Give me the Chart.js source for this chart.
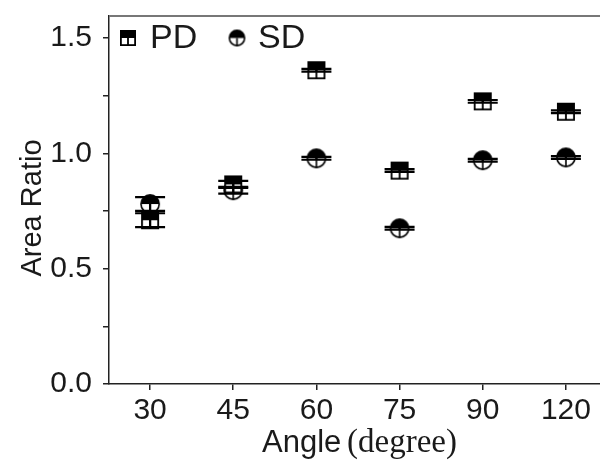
<!DOCTYPE html>
<html>
<head>
<meta charset="utf-8">
<script src="https://cdn.jsdelivr.net/npm/chart.js@4.4.1/dist/chart.umd.min.js"></script>
<style>
  html, body { margin: 0; padding: 0; background: #fff; overflow: hidden; }
  #wrap { width: 600px; height: 461px; overflow: hidden; }
  #c { display: block; }
</style>
</head>
<body>
<div id="wrap"><canvas id="c" width="611" height="461"></canvas></div>
<script>
// ---- data ----
const angleLabels = ['30', '45', '60', '75', '90', '120'];
const pdValues = [0.71, 0.865, 1.36, 0.925, 1.225, 1.18];
const pdErrors = [0.03, 0.015, 0.006, 0.006, 0.006, 0.006];
const sdValues = [0.78, 0.84, 0.978, 0.675, 0.97, 0.982];
const sdErrors = [0.03, 0.015, 0.006, 0.006, 0.006, 0.006];
const yTicks = [0, 0.25, 0.5, 0.75, 1.0, 1.25, 1.5];
const seriesNames = ['PD', 'SD'];

// ---- marker images ----
function makeSquare(w, h) {
  const c = document.createElement('canvas');
  c.width = w + 2; c.height = h + 2;
  const g = c.getContext('2d');
  const o = 1;
  g.fillStyle = '#fff'; g.fillRect(o, o, w, h);
  g.fillStyle = '#000'; g.fillRect(o, o, w, h / 2);
  g.strokeStyle = '#000'; g.lineWidth = 1.8;
  g.strokeRect(o + 0.9, o + 0.9, w - 1.8, h - 1.8);
  g.beginPath(); g.moveTo(o + w / 2, o + h / 2); g.lineTo(o + w / 2, o + h); g.stroke();
  return c;
}
function makeCircle(size) {
  const c = document.createElement('canvas');
  c.width = size + 2; c.height = size + 2;
  const g = c.getContext('2d');
  const cx = (size + 2) / 2, r = size / 2 - 0.9;
  g.fillStyle = '#fff'; g.beginPath(); g.arc(cx, cx, r, 0, Math.PI * 2); g.fill();
  g.fillStyle = '#000'; g.beginPath(); g.arc(cx, cx, r, Math.PI, 0); g.closePath(); g.fill();
  g.strokeStyle = '#000'; g.lineWidth = 1.6;
  g.beginPath(); g.arc(cx, cx, r, 0, Math.PI * 2); g.stroke();
  g.beginPath(); g.moveTo(cx, cx); g.lineTo(cx, cx + r); g.stroke();
  return c;
}
const sqBig = makeSquare(18, 18), ciBig = makeCircle(20);
const sqSmall = makeSquare(16, 16), ciSmall = makeCircle(17);

const errors = [pdErrors, sdErrors];
const SANS = '"Liberation Sans", Arial, sans-serif';
const SERIF = '"Liberation Serif", "Times New Roman", serif';

const errorBarPlugin = {
  id: 'errorBars',
  afterDatasetsDraw(chart) {
    const g = chart.ctx, xs = chart.scales.x, ys = chart.scales.y;
    g.save();
    g.strokeStyle = '#000'; g.lineWidth = 2.2;
    chart.data.datasets.forEach((ds, di) => {
      ds.data.forEach((p, i) => {
        const e = errors[di][i];
        const x = xs.getPixelForValue(p.x);
        const y1 = ys.getPixelForValue(p.y + e), y2 = ys.getPixelForValue(p.y - e);
        const hw = 15;
        g.beginPath();
        g.moveTo(x, y1); g.lineTo(x, y2);
        g.moveTo(x - hw, y1); g.lineTo(x + hw, y1);
        g.moveTo(x - hw, y2); g.lineTo(x + hw, y2);
        g.stroke();
      });
    });
    g.restore();
  }
};

const framePlugin = {
  id: 'frame',
  afterDraw(chart) {
    const g = chart.ctx, a = chart.chartArea;
    g.save();
    g.strokeStyle = '#777'; g.lineWidth = 2;
    g.beginPath(); g.moveTo(a.left, a.top); g.lineTo(a.right, a.top); g.stroke();
    // legend
    const imgs = [sqSmall, ciSmall];
    const mx = [128, 237], tx = [150, 258], ly = 38;
    g.fillStyle = '#1a1a1a';
    g.font = '34px ' + SANS;
    g.textBaseline = 'middle';
    seriesNames.forEach((n, i) => {
      const im = imgs[i];
      g.drawImage(im, mx[i] - im.width / 2, ly - im.height / 2);
      g.fillText(n, tx[i], ly + 1);
    });
    // x title with mixed fonts
    g.textBaseline = 'alphabetic';
    g.font = '31px ' + SANS;
    g.fillText('Angle', 262, 452);
    g.font = '33px ' + SERIF;
    g.fillText('(degree)', 347, 452);
    // y title
    g.save();
    g.translate(41, 208);
    g.rotate(-Math.PI / 2);
    g.font = '29px ' + SANS;
    g.textAlign = 'center';
    g.fillText('Area Ratio', 0, 0);
    g.restore();
    g.restore();
  }
};

const mk = (vals) => vals.map((v, i) => ({ x: i, y: v }));

new Chart(document.getElementById('c'), {
  type: 'scatter',
  data: {
    datasets: [
      { label: seriesNames[0], data: mk(pdValues), pointStyle: sqBig, pointRadius: 9, showLine: false },
      { label: seriesNames[1], data: mk(sdValues), pointStyle: ciBig, pointRadius: 10, showLine: false }
    ]
  },
  options: {
    responsive: false,
    animation: false,
    events: [],
    layout: { padding: { top: 16, right: 0, left: 0, bottom: 0 } },
    plugins: { legend: { display: false }, tooltip: { enabled: false } },
    scales: {
      x: {
        type: 'linear',
        min: -0.494, max: 5.41,
        afterBuildTicks: (s) => { s.ticks = angleLabels.map((_, i) => ({ value: i })); },
        afterFit: (s) => { s.height = 77; },
        grid: { display: true, drawOnChartArea: false, drawTicks: true, tickLength: 6, color: '#222', lineWidth: 1.5 },
        border: { display: true, color: '#222', width: 1.5 },
        ticks: {
          padding: 3,
          color: '#1a1a1a',
          font: { family: SANS, size: 30 },
          callback: (v) => angleLabels[Math.round(v)],
          maxRotation: 0, autoSkip: false
        }
      },
      y: {
        min: 0, max: 1.595,
        afterBuildTicks: (s) => { s.ticks = yTicks.map(v => ({ value: v })); },
        afterFit: (s) => { s.width = 109; s.paddingTop = 0; s.paddingBottom = 0; },
        grid: { display: true, drawOnChartArea: false, drawTicks: true, tickLength: 6, color: '#222', lineWidth: 1.5 },
        border: { display: true, color: '#222', width: 1.5 },
        title: { display: false },
        ticks: {
          padding: 11,
          color: '#1a1a1a',
          font: { family: SANS, size: 30 },
          callback: (v) => (Math.abs(v * 2 - Math.round(v * 2)) < 1e-6 ? v.toFixed(1) : '')
        }
      }
    }
  },
  plugins: [errorBarPlugin, framePlugin]
});
</script>
</body>
</html>
